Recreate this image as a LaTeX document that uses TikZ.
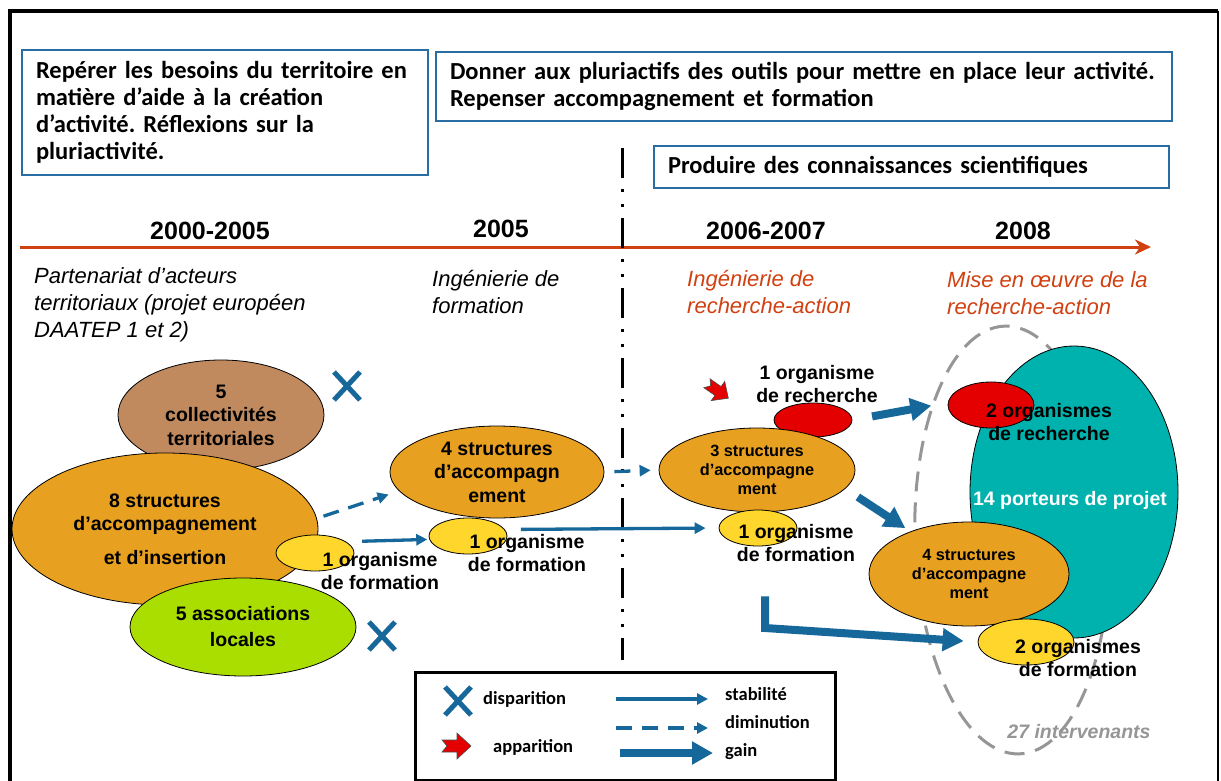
\documentclass[tikz,border=0pt]{standalone}
\usepackage{fontspec}
\setmainfont{Liberation Sans}
\newfontfamily\myriad{Carlito}
\usetikzlibrary{shapes.geometric}
\usetikzlibrary{arrows.meta}
\frenchspacing
\definecolor{bleu}{RGB}{22,103,154}
\definecolor{cadre}{RGB}{40,110,165}
\definecolor{rouille}{RGB}{208,64,16}
\definecolor{orangeb}{RGB}{232,160,32}
\definecolor{brun}{RGB}{192,138,94}
\definecolor{vert}{RGB}{170,222,0}
\definecolor{jaune}{RGB}{255,214,44}
\definecolor{rouge}{RGB}{228,0,0}
\definecolor{turquoise}{RGB}{0,178,174}
\definecolor{gris}{RGB}{150,150,150}
\tikzstyle{objectif}=[rectangle, draw=cadre, line width=2.2pt, inner xsep=14pt,
                      inner ysep=0pt, align=left,
                      font=\myriad\bfseries\fontsize{24.5}{27}\selectfont]
\tikzset{croix/.pic={\draw[bleu, line width=5pt] (-13,-14) -- (13,14) (-13,14) -- (13,-14);},
         apparue/.pic={\draw[black!70, fill=rouge, line width=0.6pt]
           (-15,-6) -- (0,-6) -- (0,-13) -- (14,0) -- (0,13) -- (0,6) -- (-15,6) -- (-10,0) -- cycle;}}

\begin{document}
\begin{tikzpicture}[x=1pt,y=-1pt]
  \tikzstyle{bulle}=[ellipse, draw=black, line width=0.8pt, inner sep=0pt, align=center,
                     font=\bfseries\fontsize{19.5}{23.5}\selectfont]
  \tikzstyle{petit}=[font=\bfseries\fontsize{16.3}{19}\selectfont]
  \tikzstyle{etiq}=[inner sep=0pt, align=center, font=\bfseries\fontsize{19.5}{23}\selectfont]
  \tikzstyle{annee}=[inner sep=0pt, anchor=base, font=\bfseries\fontsize{25}{30}\selectfont]
  \tikzstyle{phase}=[inner sep=0pt, anchor=north west, align=left,
                     font=\itshape\fontsize{22}{27}\selectfont]
  \tikzstyle{legtxt}=[inner sep=0pt, anchor=base west, font=\myriad\bfseries\fontsize{18.5}{22}\selectfont]
  \tikzstyle{stab}=[bleu, line width=3.3pt, -{Triangle[length=11pt,width=11pt]}]
  \tikzstyle{dimi}=[stab, dash pattern=on 16pt off 10pt]
  \tikzstyle{gain}=[bleu, line width=8pt, -{Triangle[length=21pt,width=22pt]}]
  \useasboundingbox (0,0) rectangle (1221,781);
  % cadre
  \draw[line width=4pt] (10,790) -- (10,11) -- (1218,11);
  \draw[line width=2.5pt] (1218,11) -- (1218,790);
  % objectifs
  \node[objectif, minimum height=125pt, text width=378pt] (obj1) at (225,112.5)
    {\mbox{Repérer les besoins du territoire en}\\\mbox{matière d’aide à la création}\\
     \mbox{d’activité. Réflexions sur la}\\\mbox{pluriactivité.}};
  \node[objectif, minimum height=69pt, text width=708pt] (obj2) at (804,86.5)
    {\mbox{Donner aux pluriactifs des outils pour mettre en place leur activité.}\\
     \mbox{Repenser accompagnement et formation}};
  \node[objectif, minimum height=42pt, text width=487pt] (obj3) at (911.5,167)
    {\mbox{Produire des connaissances scientifiques}};
  % frise
  \coordinate (debut) at (20,247);
  \coordinate (fin) at (1151,247);
  \draw[rouille, line width=3pt, -{Stealth[length=16pt,width=15pt,inset=5pt]}] (debut) -- (fin);
  \node[annee] (an1) at (210,239) {2000-2005};
  \node[annee] (an2) at (501,237) {2005};
  \node[annee] (an3) at (766,239) {2006-2007};
  \node[annee] (an4) at (1023,239) {2008};
  \node[phase] (ph1) at (34,267) {Partenariat d’acteurs\\territoriaux (projet européen\\DAATEP 1 et 2)};
  \node[phase] (ph2) at (432,270.5) {Ingénierie de\\formation};
  \node[phase, rouille] (ph3) at (687,270.5) {Ingénierie de\\recherche-action};
  \node[phase, rouille] (ph4) at (947,271) {Mise en œuvre de la\\recherche-action};
  % separation
  \coordinate (sephaut) at (622.5,148);
  \coordinate (sepbas) at (622.5,660);
  \draw[line width=3pt, dash pattern=on 30pt off 11pt on 3pt off 12pt on 3pt off 11pt] (sephaut) -- (sepbas);
  % 2000-2005
  \node[bulle, fill=brun, minimum width=206pt, minimum height=110pt] (coll) at (221,415)
    {5\\collectivités\\territoriales};
  \node[bulle, fill=orangeb, minimum width=306pt, minimum height=152pt] (acc8) at (165,529)
    {8 structures\\d’accompagnement\\[10pt]et d’insertion};
  \node[bulle, fill=jaune, minimum width=78pt, minimum height=36pt] (forA) at (315,553) {};
  \node[bulle, fill=vert, minimum width=226pt, minimum height=98pt] (assoc) at (243,627)
    {5 associations\\[2.5pt]locales};
  \pic at (347,386) {croix};
  \pic at (382,636) {croix};
  % 2005
  \node[bulle, fill=orangeb, minimum width=214pt, minimum height=92pt] (acc4) at (497,472)
    {4 structures\\d’accompagn\\ement};
  \node[bulle, fill=jaune, minimum width=78pt, minimum height=36pt] (forB) at (468,536) {};
  % 2006-2007
  \node[bulle, fill=rouge, minimum width=78pt, minimum height=34pt] (rechA) at (813,420) {};
  \node[bulle, petit, fill=orangeb, minimum width=196pt, minimum height=84pt] (acc3) at (757,470)
    {3 structures\\d’accompagne\\ment};
  \node[bulle, fill=jaune, minimum width=78pt, minimum height=36pt] (forD) at (758,528) {};
  \pic[rotate=-35, scale=0.9] at (718,391) {apparue};
  % 2008
  \node[ellipse, draw=gris, line width=3pt, dash pattern=on 20pt off 11pt, rotate=2,
        minimum width=194pt, minimum height=428pt] (interv) at (1012,540) {};
  \node[bulle, fill=turquoise, minimum width=208pt, minimum height=292pt] (porteurs) at (1074,492) {};
  \node[bulle, fill=rouge, minimum width=86pt, minimum height=46pt] (rechB) at (991,405) {};
  \node[bulle, petit, fill=orangeb, minimum width=200pt, minimum height=104pt] (acc4b) at (969,574)
    {4 structures\\d’accompagne\\ment};
  \node[bulle, fill=jaune, minimum width=96pt, minimum height=46pt] (forC) at (1026,642) {};
  % evolutions
  \draw[dimi, shorten <=7pt, shorten >=11pt] (acc8.4) -- (acc4.191);
  \draw[stab, shorten <=16pt, shorten >=2pt] (forA.20) -- (forB.185);
  \draw[stab, shorten <=16pt, shorten >=13pt] (forB.10) -- (forD.180);
  \draw[dimi, shorten <=10pt, shorten >=8pt] (acc4.east) -- (acc3.west);
  \draw[gain, shorten <=20pt] (rechA.east) -- (interv.119);
  \draw[gain, shorten <=15pt, shorten >=6pt] (acc3.-12) -- (acc4b.144);
  \coordinate (coude) at (765,628);
  \draw[gain, shorten >=14pt] ([xshift=7pt,yshift=-50pt]forD.south) -- (coude) -- (forC.west);
  % etiquettes
  \node[etiq] (forAtxt) at (380,571) {1 organisme\\de formation};
  \node[etiq] (forBtxt) at (527,553.5) {1 organisme\\de formation};
  \node[etiq] (forDtxt) at (796,543.5) {1 organisme\\de formation};
  \node[etiq] (rechAtxt) at (817,384.5) {1 organisme\\de recherche};
  \node[etiq] (rechBtxt) at (1049,422.5) {2 organismes\\de recherche};
  \node[etiq] (forCtxt) at (1078,658) {2 organismes\\de formation};
  \node[etiq, white] (porttxt) at (1070,500) {14 porteurs de projet};
  \node[etiq, gris, anchor=base, font=\bfseries\itshape\fontsize{19.5}{23}\selectfont] (intertxt) at (1079,738) {27 intervenants};
  % legende
  \node[draw, line width=3pt, minimum width=420pt, minimum height=108pt, inner sep=0pt] (legende) at (625,726) {};
  \pic at (458,701) {croix};
  \node[legtxt] (l1) at (483,704) {disparition};
  \pic at (457,746) {apparue};
  \node[legtxt] (l2) at (493,752) {apparition};
  \coordinate (s1) at (616,699);
  \coordinate (s2) at (708,699);
  \coordinate (d1) at (616,728);
  \coordinate (d2) at (708,728);
  \coordinate (g1) at (620,753);
  \coordinate (g2) at (713,753);
  \draw[stab] (s1) -- (s2);
  \draw[dimi] (d1) -- (d2);
  \draw[gain] (g1) -- (g2);
  \node[legtxt] (l3) at (725,700) {stabilité};
  \node[legtxt] (l4) at (725,728) {diminution};
  \node[legtxt] (l5) at (725,756) {gain};
\end{tikzpicture}
\end{document}
